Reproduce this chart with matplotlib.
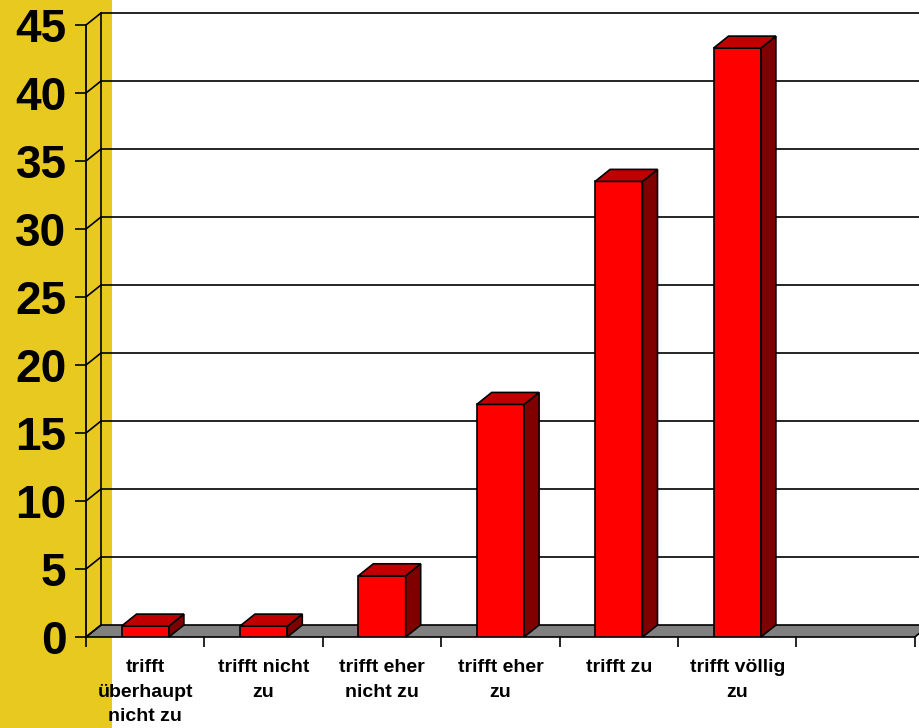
import matplotlib.pyplot as plt
from matplotlib.patches import Rectangle, Polygon
import numpy as np

plt.rcParams['font.family'] = ['Liberation Sans', 'DejaVu Sans']

# Antworten in Prozent
kategorien = ["trifft\nüberhaupt\nnicht zu", "trifft nicht\nzu", "trifft eher\nnicht zu",
              "trifft eher\nzu", "trifft zu", "trifft völlig\nzu"]
werte = [0.8, 0.8, 4.5, 17.1, 33.5, 43.3]
y_ticks = [0, 5, 10, 15, 20, 25, 30, 35, 40, 45]
n_slots = 7  # letzter Platz bleibt leer

W, H = 919, 728
fig = plt.figure(figsize=(W / 100, H / 100), dpi=100, facecolor='white')

ax = fig.add_axes([86 / W, (H - 637) / H, (W - 86) / W, (637 - 25) / H])
ax.set_facecolor('none')
slot_px = 118.4
ax.set_xlim(-0.5, -0.5 + (W - 86) / slot_px)
ax.set_ylim(0, 45)

# gelber Streifen links
ax.add_patch(Rectangle((0, 0), 112 / W, 1, transform=fig.transFigure,
                       facecolor='#E8C91F', edgecolor='none', zorder=0, clip_on=False))

# Tiefe der 3D-Darstellung in Datenkoordinaten
dx = 15 / slot_px
dy = 12 / (612 / 45)

# Boden
x0, x1 = -0.5, -0.5 + n_slots
ax.add_patch(Polygon([(x0, 0), (x0 + dx, dy), (x1 + dx, dy), (x1, 0)], closed=True,
                     facecolor='#808080', edgecolor='black', lw=1.2, zorder=1,
                     clip_on=False))

# Rückwand mit Gitterlinien, Seitenwand
for v in y_ticks:
    ax.plot([x0, x0 + dx], [v, v + dy], color='black', lw=1.2, zorder=2, clip_on=False)
    if v > 0:
        ax.plot([x0 + dx, x1 + dx], [v + dy, v + dy], color='black', lw=1.2, zorder=2,
                clip_on=False)
ax.plot([x0 + dx, x0 + dx], [dy, 45 + dy], color='black', lw=1.2, zorder=2, clip_on=False)

# Säulen
bw = 0.2
for i, v in enumerate(werte):
    l, r = i - bw, i + bw
    ax.add_patch(Rectangle((l, 0), 2 * bw, v, facecolor='#FF0000', edgecolor='black',
                           lw=1.2, zorder=4))
    ax.add_patch(Polygon([(r, 0), (r + dx, dy), (r + dx, v + dy), (r, v)], closed=True,
                         facecolor='#800000', edgecolor='black', lw=1.2, zorder=4,
                         clip_on=False))
    ax.add_patch(Polygon([(l, v), (l + dx, v + dy), (r + dx, v + dy), (r, v)], closed=True,
                         facecolor='#C00000', edgecolor='black', lw=1.2, zorder=4,
                         clip_on=False))

for s in ['top', 'right', 'bottom']:
    ax.spines[s].set_visible(False)
ax.spines['left'].set_linewidth(1.3)
ax.spines['left'].set_zorder(3)

ax.set_yticks(y_ticks)
ax.set_yticklabels([str(t) for t in y_ticks], fontsize=33, fontweight='bold')
ax.tick_params(axis='y', direction='out', length=8, width=1.2, pad=6)

ax.set_xticks(range(len(kategorien)))
ax.set_xticklabels(kategorien, fontsize=14, fontweight='bold', linespacing=1.56)
ax.set_xticks(np.arange(n_slots + 1) - 0.5, minor=True)
ax.tick_params(axis='x', which='major', length=0, pad=16)
ax.tick_params(axis='x', which='minor', direction='out', length=7.5, width=1.2)

fig.savefig('out.png', dpi=100, facecolor=fig.get_facecolor())
